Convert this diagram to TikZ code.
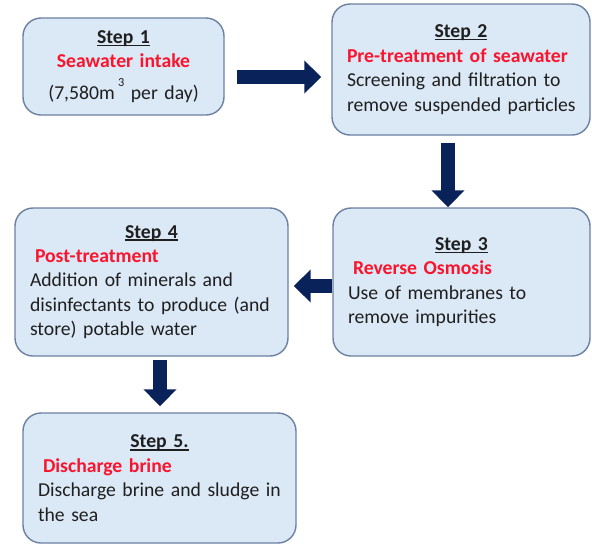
\documentclass[tikz,border=0pt]{standalone}
\usepackage{fontspec}
\setmainfont{Carlito}
\usetikzlibrary{positioning,arrows.meta}

\definecolor{boxfill}{RGB}{219,232,245}
\definecolor{boxline}{RGB}{108,128,162}
\definecolor{navy}{RGB}{10,34,90}
\definecolor{stepred}{RGB}{250,20,45}

\newsavebox\titlebox
\newcommand{\steptitle}[1]{\sbox\titlebox{\textbf{#1}}\usebox\titlebox\llap{\rule[-0.14em]{\wd\titlebox}{0.07em}}}
\newcommand{\stepname}[1]{\textcolor{stepred}{\textbf{#1}}}

\tikzset{
    stepbox/.style={draw=boxline, fill=boxfill, line width=0.8pt, rounded corners=0.36cm,
        inner xsep=0.3cm, align=left, text=black!88, font=\fontsize{11.2}{13.9}\selectfont,
        execute at begin node={\rightskip=0pt plus 2em minus 0.4cm\hyphenpenalty=10000}},
    flow/.style={draw=navy, line width=0.28cm, -{Triangle[width=0.64cm,length=0.34cm]}},
}

\begin{document}
\begin{tikzpicture}
    \useasboundingbox (0,0) rectangle (11.84,-10.9);
    % Nodes
    \node[stepbox, align=center, text width=3.42cm, minimum height=1.94cm] (intake) at (2.47,-1.33)
        {\steptitle{Step 1}\\ \stepname{Seawater intake}\\[0.14cm] (7,580m\,\raisebox{0.25cm}{\scriptsize 3} per day)};
    \node[stepbox, text width=4.56cm, minimum height=2.62cm] (pretreat) at (9.22,-1.39)
        {\makebox[\linewidth]{\steptitle{Step 2}}\\ \stepname{Pre-treatment of seawater}\\ Screening and filtration to\\ remove suspended particles};
    \node[stepbox, text width=4.54cm, minimum height=2.96cm] (ro) at (9.23,-5.64)
        {\makebox[\linewidth]{\steptitle{Step 3}}\\ \hspace*{0.1cm}\stepname{Reverse Osmosis}\\ Use of membranes to\\ remove impurities};
    \node[stepbox, text width=4.86cm, minimum height=2.96cm] (post) at (3.03,-5.64)
        {\makebox[\linewidth]{\steptitle{Step 4}}\\ \hspace*{0.1cm}\stepname{Post-treatment}\\ Addition of minerals and\\ disinfectants to produce (and\\ store) potable water};
    \node[stepbox, text width=4.86cm, minimum height=2.6cm] (brine) at (3.19,-9.56)
        {\makebox[\linewidth]{\steptitle{Step 5.}}\\ \hspace*{0.1cm}\stepname{Discharge brine}\\ Discharge brine and sludge in\\ the sea};
    % Arrows
    \draw[flow, shorten <=0.24cm, shorten >=0.2cm] ([yshift=-0.21cm]intake.east) -- ([yshift=-0.21cm]intake.east -| pretreat.west);
    \draw[flow, shorten <=0.14cm] ([xshift=-0.26cm]pretreat.south) -- ([xshift=-0.26cm]pretreat.south |- ro.north);
    \draw[flow, shorten >=0.1cm] ([yshift=-0.08cm]ro.west) -- ([yshift=-0.08cm]ro.west -| post.east);
    \draw[flow, shorten <=0.06cm, shorten >=0.12cm] ([xshift=0.17cm]post.south) -- ([xshift=0.17cm]post.south |- brine.north);
\end{tikzpicture}
\end{document}
